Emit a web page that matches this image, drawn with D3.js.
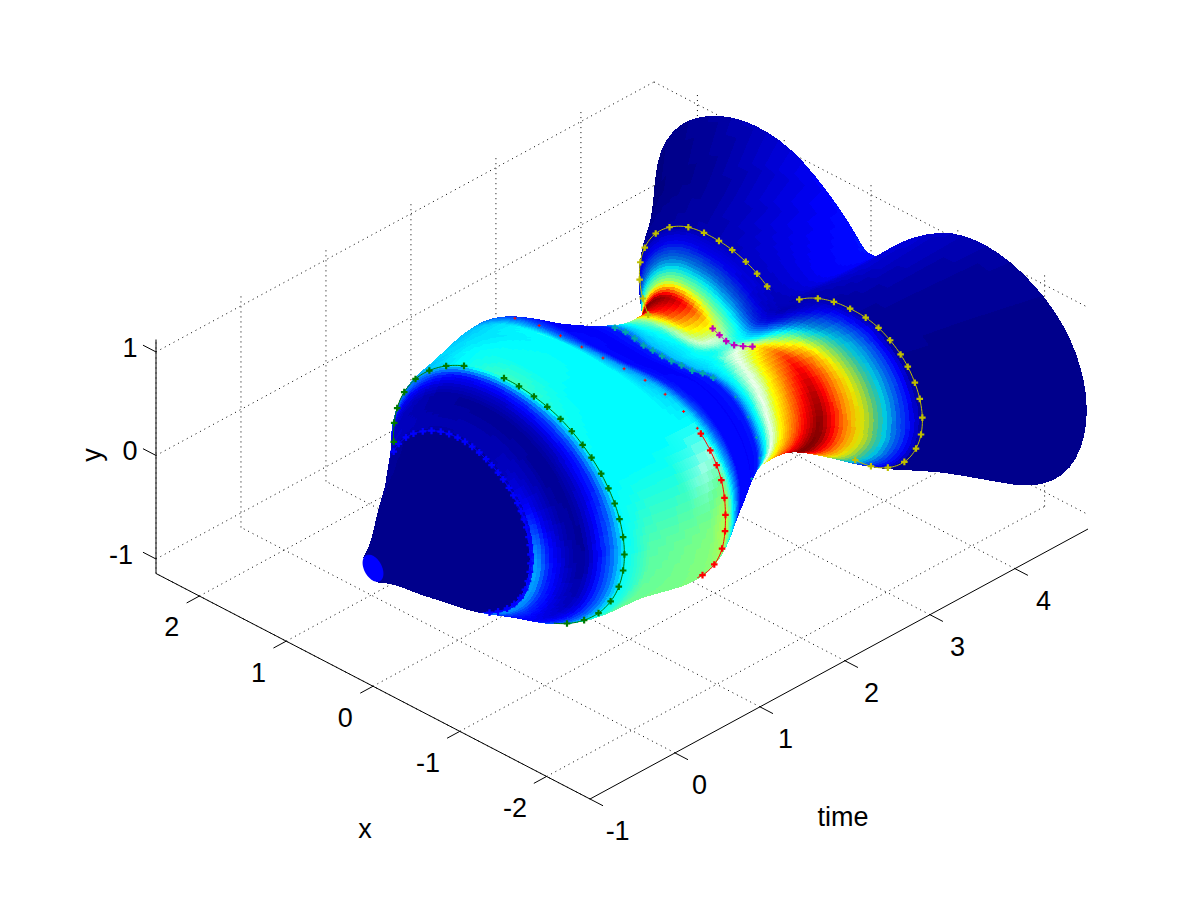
<!DOCTYPE html>
<html><head><meta charset="utf-8">
<script src="https://cdn.jsdelivr.net/npm/d3@7"></script>
<style>html,body{margin:0;background:#fff}svg{display:block}text{font-family:"Liberation Sans",Arial,sans-serif;font-size:27px;fill:#000}</style>
</head><body><svg id="c" width="1200" height="901"></svg>
<script>
// axis ticks
const xTicks=[-2,-1,0,1,2], yTicks=[-1,0,1], tTicks=[-1,0,1,2,3,4];
const xLim=[-2.5,2.5], yLim=[-1.14,1.12], tLim=[-1,4.86];
// surface radius r(time, angle); angles 0..90 mirrored into all quadrants
const radiusAngles=[0,15,30,45,60,75,90];
const radiusTimes=[-1,-.85,-.7,-.5,-.2,0,.3,.6,1.1,1.59,2,2.47,2.8,3.2,3.8,4.3,4.86];
const radiusTable=[
[.12,.12,.12,.12,.12,.12,.12],
[.2,.2,.2,.2,.2,.2,.2],
[.3,.3,.3,.3,.3,.3,.3],
[.45,.45,.45,.45,.45,.45,.45],
[.66,.66,.66,.66,.66,.66,.66],
[.82,.82,.82,.81,.8,.8,.8],
[1.07,1.06,1.04,1.01,.98,.96,.95],
[1.33,1.31,1.26,1.2,1.15,1.11,1.1],
[1.5,1.47,1.33,1.25,1.2,1.18,1.17],
[1.525,1.51,1.41,1.24,1.07,.96,.93],
[1.33,1.28,1.15,1,.86,.75,.72],
[1.06,1,.9,.74,.56,.5,.47],
[.95,.9,.8,.62,.45,.38,.36],
[1.03,.98,.85,.62,.42,.33,.3],
[1.63,1.55,1.33,1.01,.73,.52,.45],
[2,1.9,1.62,1.22,.78,.52,.44],
[2.48,2.36,2,1.5,.87,.5,.42]];
// the lower half of the far flare reaches further down
const lowerTimes=[4,4.86], lowerGain=[1,1.05];
// colour value (0..1 of the colormap) on the surface
const valueAngles=[0,30,60,90,120,150,180,210,240,270,300,330];
const valueTimes=[-1,0,.03,.12,.24,.34,.42,.5,.6,.8,1.1,1.4,1.6,1.75,1.9,2.2,2.4,2.55,2.8,3,3.2,3.35,3.5,3.65,3.8,4.3,4.86];
const valueTable=[
[.01,.01,.01,.01,.01,.01,.01,.01,.01,.01,.01,.01],
[.02,.02,.01,.01,.01,.01,.01,.01,.01,.01,.01,.02],
[.05,.05,.04,.04,.05,.13,.3,.3,.26,.1,.05,.05],
[.05,.06,.04,.04,.05,.07,.13,.15,.17,.1,.05,.05],
[.05,.05,.03,.025,.025,.025,.05,.08,.12,.1,.05,.05],
[.06,.06,.03,.025,.025,.025,.02,.05,.1,.1,.05,.05],
[.1,.1,.07,.07,.08,.08,.1,.1,.12,.1,.08,.08],
[.18,.2,.13,.14,.16,.15,.2,.2,.2,.15,.12,.12],
[.25,.27,.36,.42,.38,.36,.36,.36,.34,.2,.2,.2],
[.3,.3,.36,.37,.36,.36,.44,.46,.43,.3,.3,.3],
[.33,.33,.34,.36,.36,.36,.46,.47,.46,.3,.3,.3],
[.3,.3,.36,.36,.36,.37,.48,.48,.47,.3,.3,.3],
[.18,.18,.18,.25,.28,.37,.54,.48,.47,.3,.2,.2],
[.11,.11,.11,.12,.13,.2,.3,.3,.3,.2,.12,.12],
[.1,.1,.11,.11,.11,.12,.12,.13,.13,.12,.1,.1],
[.11,.11,.11,.11,.11,.11,.11,.11,.11,.11,.11,.11],
[.13,.13,.13,.13,.13,.13,.13,.14,.15,.15,.2,.2],
[.3,.3,.3,.3,.3,.33,.33,.34,.34,.3,.3,.3],
[.55,.48,.36,.36,.36,.5,.6,.6,.5,.4,.4,.45],
[.9,.85,.55,.38,.45,.67,.78,.78,.6,.4,.4,.6],
[.95,.97,.6,.42,.55,.85,1,1,.7,.4,.4,.7],
[.48,.52,.42,.34,.33,.68,.75,.75,.6,.3,.3,.4],
[.25,.3,.24,.16,.16,.45,.55,.5,.4,.15,.15,.2],
[.1,.12,.1,.07,.07,.22,.22,.2,.15,.06,.06,.08],
[.02,.03,.06,.05,.04,.02,.01,.01,.02,.03,.03,.02],
[0,.02,.09,.1,.07,.02,.01,.01,.02,.05,.05,.01],
[0,.03,.11,.12,.08,.02,.01,.01,.02,.06,.06,.01]];
// times where the mid colormap runs through white, and where cyan turns pale
const paleTimes=[2.4,2.6,3.1,3.35], paleAmount=[0,.85,.85,0];
const paleAngles=[40,80,240], paleAngleAmount=[.25,1,1];
const tintTimes=[1.2,1.42,1.58,1.68], tintAmount=[0,.5,.5,0];
// band just past the hot ridge where the colours are duller
const dimTimes=[3.38,3.55,3.75], dimAmount=[1,.75,1];
// marked rings: time, angle range, colour, marker spacing
const ringTimes=[.01,.6,.6,1.59,1.59,2.47,2.47,3.2,3.8,3.8];
const ringStart=[25,-3,87,151,44,40,150,61,-13,111];
const ringEnd=[250,65,243,211,150,135,205,126,76,220];
const ringColors=["#0000ff","#007a00","#007a00","#ff0000","#ff0000","#00a8a8","#00a8a8","#bf00bf","#bfbf00","#bfbf00"];
const ringMarkStep=[9,17,17,17,24,11,22,9,17,17];
const ringMarkSize=[26,24,24,24,5,24,5,24,24,24];
const ringLine=[1,1,1,1,0,1,0,1,1,1];

const ox=590, oy=799;
const xDX=d3.scaleLinear(xLim,[0,-434]), xDY=d3.scaleLinear(xLim,[0,-225.5]);
const tDX=d3.scaleLinear(tLim,[0,498]), tDY=d3.scaleLinear(tLim,[0,-270]);
const yDY=d3.scaleLinear(yLim,[0,-234]);
const proj=(t,x,y)=>[ox+xDX(x)+tDX(t), oy+xDY(x)+tDY(t)+yDY(y)];
const depth=(t,x,y)=>-.6*t-.6*x+.54*y;

function hermite(ks,vs,q){
  let i=d3.bisectRight(ks,q)-1; i=Math.max(0,Math.min(ks.length-2,i));
  const h=ks[i+1]-ks[i], u=(q-ks[i])/h;
  const slope=k=>k<=0?(vs[1]-vs[0])/(ks[1]-ks[0]):k>=ks.length-1?(vs[k]-vs[k-1])/(ks[k]-ks[k-1]):(vs[k+1]-vs[k-1])/(ks[k+1]-ks[k-1]);
  const m0=slope(i)*h,m1=slope(i+1)*h,u2=u*u,u3=u2*u;
  return (2*u3-3*u2+1)*vs[i]+(u3-2*u2+u)*m0+(-2*u3+3*u2)*vs[i+1]+(u3-u2)*m1;
}
const mod=(a,n)=>((a%n)+n)%n;
function radius(t,a){
  let f=mod(a,180); if(f>90)f=180-f;
  const col=radiusAngles.map((_,j)=>hermite(radiusTimes,radiusTable.map(r=>r[j]),t));
  const ks=[-15,...radiusAngles,105], vs=[col[1],...col,col[5]];
  return hermite(ks,vs,f);
}
const lower=d3.scaleLinear(lowerTimes,lowerGain).clamp(true);
function surf(t,a){
  const r=radius(t,a),rad=a*Math.PI/180,x=r*Math.cos(rad);let y=r*Math.sin(rad);
  if(y<0)y*=lower(t);
  return [x,y];
}
function value(t,a){
  let i=d3.bisectRight(valueTimes,t)-1; i=Math.max(0,Math.min(valueTimes.length-2,i));
  const u=(t-valueTimes[i])/(valueTimes[i+1]-valueTimes[i]);
  const n=valueAngles.length, p=mod(a,360)/30, j=Math.floor(p)%n, w=p-Math.floor(p);
  const at=k=>{k=mod(k,n);return valueTable[i][k]*(1-u)+valueTable[i+1][k]*u;};
  const a0=at(j-1),a1=at(j),a2=at(j+1),a3=at(j+2);
  const v=.5*((2*a1)+(-a0+a2)*w+(2*a0-5*a1+4*a2-a3)*w*w+(-a0+3*a1-3*a2+a3)*w*w*w);
  return Math.max(0,Math.min(1,v));
}
const jet=d3.scaleLinear([0,.11,.36,.61,.86,1],["#000080","#0000ff","#00ffff","#ffff00","#ff0000","#800000"]).clamp(true);
const pale=d3.scaleLinear(paleTimes,paleAmount).clamp(true);
const paleA=d3.scaleLinear(paleAngles,paleAngleAmount).clamp(true);
const tint=d3.scaleLinear(tintTimes,tintAmount).clamp(true);
const dim=d3.scaleLinear(dimTimes,dimAmount).clamp(true);
function colour(t,a,v){
  const q=Math.round(v*95)/95;
  const w=Math.max(pale(t)*paleA(a)*Math.max(0,1-Math.abs(q-.485)/.11),tint(t)*Math.max(0,1-Math.abs(q-.41)/.05));
  const c=d3.rgb(w>0?d3.interpolateRgb(jet(q),"#fff")(w):jet(q)),k=dim(t);
  return d3.rgb(c.r*k,c.g*k,c.b*(.4+.6*k)).formatHex();
}
const svg=d3.select("#c");
svg.append("rect").attr("width",1200).attr("height",901).attr("fill","#fff");
const line=(a,b)=>"M"+a+"L"+b;
// grid
let g="";
for(const x of xTicks){g+=line(proj(tLim[0],x,yLim[0]),proj(tLim[1],x,yLim[0]));g+=line(proj(tLim[1],x,yLim[0]),proj(tLim[1],x,yLim[1]));}
for(const t of tTicks){g+=line(proj(t,xLim[0],yLim[0]),proj(t,xLim[1],yLim[0]));g+=line(proj(t,xLim[1],yLim[0]),proj(t,xLim[1],yLim[1]));}
for(const y of yTicks){g+=line(proj(tLim[0],xLim[1],y),proj(tLim[1],xLim[1],y));g+=line(proj(tLim[1],xLim[1],y),proj(tLim[1],xLim[0],y));}
svg.append("path").attr("d",g).attr("fill","none").attr("stroke","#000").attr("stroke-width",1).attr("stroke-dasharray","1 4");
// axes and ticks
let ax=line(proj(tLim[0],xLim[1],yLim[0]),proj(tLim[0],xLim[0],yLim[0]))+line(proj(tLim[0],xLim[0],yLim[0]),proj(tLim[1],xLim[0],yLim[0]))+line(proj(tLim[0],xLim[1],yLim[0]),proj(tLim[0],xLim[1],yLim[1]));
for(const x of xTicks)ax+=line(proj(tLim[0],x,yLim[0]),proj(tLim[0]-.15,x,yLim[0]));
for(const t of tTicks)ax+=line(proj(t,xLim[0],yLim[0]),proj(t,xLim[0]-.15,yLim[0]));
for(const y of yTicks)ax+=line(proj(tLim[0],xLim[1],y),proj(tLim[0],xLim[1]+.15,y));
svg.append("path").attr("d",ax).attr("fill","none").attr("stroke","#000").attr("stroke-width",1);
const label=(s,p,rot)=>{const e=svg.append("text").text(s).attr("text-anchor","middle").attr("dominant-baseline","central");
  if(rot)e.attr("transform",`translate(${p}) rotate(${rot})`);else e.attr("x",p[0]).attr("y",p[1]);};
for(const x of xTicks){const p=proj(tLim[0]-.42,x,yLim[0]);label(x,[p[0]+(x<0?4:8),p[1]+12]);}
for(const t of tTicks){const p=proj(t,xLim[0]-.33,yLim[0]);label(t,[p[0]+(t<0?-1:-4+t),p[1]+17]);}
for(const y of yTicks){const p=proj(tLim[0],xLim[1],y);label(y,[p[0]-26-(y<0?9:0),p[1]-4]);}
label("x",[365,829]);label("time",[843,817]);label("y",[92,455],-90);
// surface
const ts=d3.range(0,235).map(i=>-1+i*.025).concat([4.86]).filter((t,i,A)=>t<=4.86&&(i==0||t-A[i-1]>.005));
const as=d3.range(0,361,3);
const grid=ts.map(t=>as.map(a=>{const [x,y]=surf(t,a);
  return {p:proj(t,x,y),d:depth(t,x,y),v:value(t,a)};}));
const quads=[];
for(let i=0;i<ts.length-1;i++)for(let j=0;j<as.length-1;j++){
  const A=grid[i][j],B=grid[i+1][j],C=grid[i+1][j+1],D=grid[i][j+1];
  const poly=[A.p,B.p,C.p,D.p];
  if(d3.polygonArea(poly)>=0)continue;
  quads.push({poly,d:(A.d+B.d+C.d+D.d)/4,c:colour((ts[i]+ts[i+1])/2,as[j]+1.5,(A.v+B.v+C.v+D.v)/4)});
}
quads.sort((a,b)=>a.d-b.d);
svg.append("g").attr("shape-rendering","crispEdges").selectAll("path").data(quads).join("path")
  .attr("d",q=>"M"+q.poly.map(p=>p[0].toFixed(1)+","+p[1].toFixed(1)).join("L")+"Z")
  .attr("fill",q=>q.c).attr("stroke",q=>q.c).attr("stroke-width",1);
// tip cap
svg.append("path").attr("d","M"+as.map(a=>{const [x,y]=surf(-1,a);return proj(-1,x,y);}).join("L")+"Z").attr("fill","#0000ff");
// rings
ringTimes.forEach((t,k)=>{
  const pts=d3.range(ringStart[k],ringEnd[k]+.01,1).map(a=>{const [x,y]=surf(t,a);return proj(t,x,y);});
  if(ringLine[k])svg.append("path").attr("d",d3.line()(pts)).attr("fill","none").attr("stroke",ringColors[k]).attr("stroke-width",1);
  let acc=0,next=0;const sym=d3.symbol(d3.symbolCross,ringMarkSize[k])();
  pts.forEach((p,i)=>{ if(i)acc+=Math.hypot(p[0]-pts[i-1][0],p[1]-pts[i-1][1]);
    if(acc>=next){next+=ringMarkStep[k];svg.append("path").attr("d",sym).attr("transform",`translate(${p})`).attr("fill",ringColors[k]);}});
});
</script></body></html>
